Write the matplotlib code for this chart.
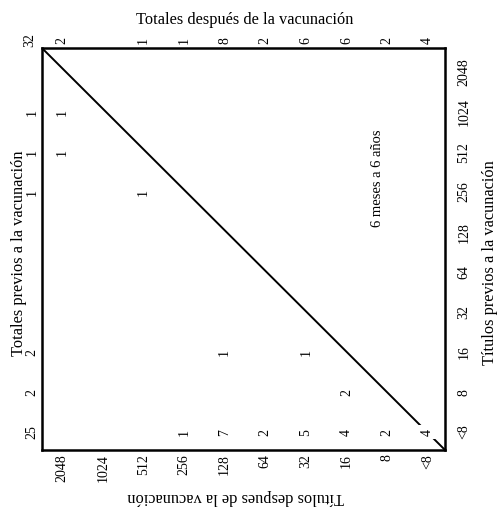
import numpy as np
import matplotlib.pyplot as plt

# titulos (columnas = despues, filas = previos)
titulos_despues = ['2048', '1024', '512', '256', '128', '64', '32', '16', '8', '<8']
titulos_previos = ['2048', '1024', '512', '256', '128', '64', '32', '16', '8', '<8']

# casos: filas = titulos previos, columnas = titulos despues
casos = np.array([
    [0, 0, 0, 0, 0, 0, 0, 0, 0, 0],
    [1, 0, 0, 0, 0, 0, 0, 0, 0, 0],
    [1, 0, 0, 0, 0, 0, 0, 0, 0, 0],
    [0, 0, 1, 0, 0, 0, 0, 0, 0, 0],
    [0, 0, 0, 0, 0, 0, 0, 0, 0, 0],
    [0, 0, 0, 0, 0, 0, 0, 0, 0, 0],
    [0, 0, 0, 0, 0, 0, 0, 0, 0, 0],
    [0, 0, 0, 0, 1, 0, 1, 0, 0, 0],
    [0, 0, 0, 0, 0, 0, 0, 2, 0, 0],
    [0, 0, 0, 1, 7, 2, 5, 4, 2, 4],
])
grupo = '6 meses a 6 años'

plt.rcParams['font.family'] = ['Liberation Serif', 'DejaVu Serif']

fig = plt.figure(figsize=(5.02, 5.08), dpi=100)
ax = fig.add_axes([0.0837, 0.114, 0.803, 0.7913])
ax.set_xlim(-0.5, 9.43)
ax.set_ylim(9.45, -0.6)

for s in ax.spines.values():
    s.set_linewidth(1.8)

# diagonal
ax.plot([0, 1], [1, 0], transform=ax.transAxes, color='black', lw=1.4, zorder=1)

nf = 10
for r in range(len(titulos_previos)):
    for c in range(len(titulos_despues)):
        if casos[r, c] > 0:
            ax.text(c, r, str(casos[r, c]), rotation=90, ha='center', va='center',
                    fontsize=nf, zorder=3,
                    bbox=dict(facecolor='white', edgecolor='none', pad=2.5))

# totales
tot_despues = casos.sum(axis=0)
tot_previos = casos.sum(axis=1)
for c, t in enumerate(tot_despues):
    if t > 0:
        ax.text(c, -0.8, str(t), rotation=90, ha='center', va='center', fontsize=nf, clip_on=False)
for r, t in enumerate(tot_previos):
    if t > 0:
        ax.text(-0.74, r, str(t), rotation=90, ha='center', va='center', fontsize=nf, clip_on=False)
ax.text(-0.81, -0.8, str(casos.sum()), rotation=90, ha='center', va='center', fontsize=nf, clip_on=False)

ax.set_xticks(range(len(titulos_despues)))
ax.set_xticklabels(titulos_despues, rotation=90, fontsize=nf)
ax.yaxis.tick_right()
ax.set_yticks(range(len(titulos_previos)))
ax.set_yticklabels(titulos_previos, rotation=90, va='center', fontsize=nf)
ax.tick_params(axis='x', length=0, pad=3)
ax.tick_params(axis='y', length=0, pad=9)

ax.text(7.76, 2.65, grupo, rotation=90, ha='center', va='center', fontsize=10.5)

fs = 11.8
fig.text(0.488, 0.961, 'Totales después de la vacunación', ha='center', va='center', fontsize=fs)
fig.text(0.038, 0.502, 'Totales previos a la vacunación', rotation=90, ha='center', va='center', fontsize=fs)
fig.text(0.976, 0.484, 'Títulos previos a la vacunación', rotation=90, ha='center', va='center', fontsize=fs)
fig.text(0.47, 0.022, 'Títulos despues de la vacunación', rotation=180, ha='center', va='center', fontsize=fs)

fig.savefig('out.png', dpi=100)
